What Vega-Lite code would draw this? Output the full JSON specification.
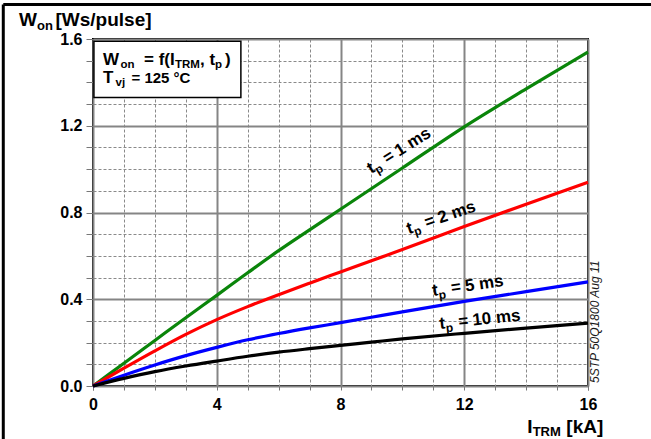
{
  "$schema": "https://vega.github.io/schema/vega-lite/v6.json",
  "width": 495,
  "height": 347,
  "autosize": {"type": "none"},
  "padding": {"left": 93, "top": 39, "right": 63, "bottom": 53},
  "background": "white",
  "config": {
    "view": {"stroke": "black", "strokeWidth": 2},
    "font": "Liberation Sans",
    "text": {"font": "Liberation Sans", "fontWeight": "bold", "color": "black"}
  },
  "resolve": {"axis": {"x": "independent", "y": "independent"}},
  "datasets": {
    "curves": [
      {"tp": "1 ms", "I": 0, "W": 0},
      {"tp": "1 ms", "I": 1, "W": 0.105},
      {"tp": "1 ms", "I": 2, "W": 0.21},
      {"tp": "1 ms", "I": 3, "W": 0.315},
      {"tp": "1 ms", "I": 4, "W": 0.418},
      {"tp": "1 ms", "I": 5, "W": 0.522},
      {"tp": "1 ms", "I": 6, "W": 0.624},
      {"tp": "1 ms", "I": 7, "W": 0.72},
      {"tp": "1 ms", "I": 8, "W": 0.815},
      {"tp": "1 ms", "I": 10, "W": 1.005},
      {"tp": "1 ms", "I": 12, "W": 1.195},
      {"tp": "1 ms", "I": 14, "W": 1.37},
      {"tp": "1 ms", "I": 16, "W": 1.54},
      {"tp": "2 ms", "I": 0, "W": 0},
      {"tp": "2 ms", "I": 1, "W": 0.082},
      {"tp": "2 ms", "I": 2, "W": 0.162},
      {"tp": "2 ms", "I": 3, "W": 0.238},
      {"tp": "2 ms", "I": 4, "W": 0.306},
      {"tp": "2 ms", "I": 5, "W": 0.366},
      {"tp": "2 ms", "I": 6, "W": 0.421},
      {"tp": "2 ms", "I": 7, "W": 0.474},
      {"tp": "2 ms", "I": 8, "W": 0.526},
      {"tp": "2 ms", "I": 9, "W": 0.578},
      {"tp": "2 ms", "I": 10, "W": 0.629},
      {"tp": "2 ms", "I": 12, "W": 0.735},
      {"tp": "2 ms", "I": 14, "W": 0.838},
      {"tp": "2 ms", "I": 16, "W": 0.94},
      {"tp": "5 ms", "I": 0, "W": 0},
      {"tp": "5 ms", "I": 1, "W": 0.05},
      {"tp": "5 ms", "I": 2, "W": 0.097},
      {"tp": "5 ms", "I": 3, "W": 0.14},
      {"tp": "5 ms", "I": 4, "W": 0.178},
      {"tp": "5 ms", "I": 5, "W": 0.213},
      {"tp": "5 ms", "I": 6, "W": 0.242},
      {"tp": "5 ms", "I": 7, "W": 0.268},
      {"tp": "5 ms", "I": 8, "W": 0.292},
      {"tp": "5 ms", "I": 9, "W": 0.317},
      {"tp": "5 ms", "I": 10, "W": 0.342},
      {"tp": "5 ms", "I": 12, "W": 0.39},
      {"tp": "5 ms", "I": 14, "W": 0.435},
      {"tp": "5 ms", "I": 16, "W": 0.48},
      {"tp": "10 ms", "I": 0, "W": 0},
      {"tp": "10 ms", "I": 1, "W": 0.035},
      {"tp": "10 ms", "I": 2, "W": 0.066},
      {"tp": "10 ms", "I": 3, "W": 0.092},
      {"tp": "10 ms", "I": 4, "W": 0.115},
      {"tp": "10 ms", "I": 5, "W": 0.137},
      {"tp": "10 ms", "I": 6, "W": 0.156},
      {"tp": "10 ms", "I": 7, "W": 0.172},
      {"tp": "10 ms", "I": 8, "W": 0.187},
      {"tp": "10 ms", "I": 9, "W": 0.202},
      {"tp": "10 ms", "I": 10, "W": 0.217},
      {"tp": "10 ms", "I": 12, "W": 0.243},
      {"tp": "10 ms", "I": 14, "W": 0.267},
      {"tp": "10 ms", "I": 16, "W": 0.29}
    ],
    "labels": [
      {"tp": "1 ms", "x": 8.99, "y": 0.977},
      {"tp": "2 ms", "x": 10.21, "y": 0.70},
      {"tp": "5 ms", "x": 10.99, "y": 0.415},
      {"tp": "10 ms", "x": 11.22, "y": 0.263}
    ],
    "one": [{}]
  },
  "layer": [
    {
      "data": {"name": "curves"},
      "mark": {"type": "line", "strokeOpacity": 0},
      "encoding": {
        "x": {
          "field": "I", "type": "quantitative",
          "scale": {"domain": [0, 16], "nice": false, "zero": false},
          "axis": {
            "orient": "bottom",
            "values": [0,1,2,3,5,6,7,9,10,11,13,14,15,16],
            "labels": false,
            "title": null,
            "domain": false,
            "grid": true,
            "gridColor": "#8a8a8a",
            "gridDash": [3, 2],
            "gridWidth": 1,
            "ticks": true,
            "tickSize": 4,
            "tickColor": "#777777"
          }
        },
        "y": {
          "field": "W", "type": "quantitative",
          "scale": {"domain": [0, 1.6], "nice": false, "zero": false},
          "axis": {
            "orient": "left",
            "values": [0.1,0.2,0.3,0.5,0.6,0.7,0.9,1.0,1.1,1.3,1.4,1.5],
            "labels": false,
            "title": null,
            "domain": false,
            "grid": true,
            "gridColor": "#8a8a8a",
            "gridDash": [3, 2],
            "gridWidth": 1,
            "ticks": true,
            "tickSize": 7,
            "tickColor": "#777777"
          }
        },
        "detail": {"field": "tp", "type": "nominal"}
      }
    },
    {
      "data": {"name": "curves"},
      "mark": {"type": "line", "interpolate": "monotone", "strokeWidth": 3.2},
      "encoding": {
        "x": {
          "field": "I", "type": "quantitative",
          "scale": {"domain": [0, 16], "nice": false, "zero": false},
          "axis": {
            "orient": "bottom",
            "values": [0, 4, 8, 12, 16],
            "format": "d",
            "title": null,
            "domain": false,
            "grid": true,
            "gridColor": "#858585",
            "gridWidth": 2,
            "ticks": true,
            "tickSize": 4,
            "tickColor": "#777777",
            "labelFont": "Liberation Sans",
            "labelFontSize": 16,
            "labelFontWeight": "bold",
            "labelColor": "black",
            "labelPadding": 6,
            "labelFlush": false,
            "labelOverlap": false
          }
        },
        "y": {
          "field": "W", "type": "quantitative",
          "scale": {"domain": [0, 1.6], "nice": false, "zero": false},
          "axis": {
            "orient": "left",
            "values": [0, 0.4, 0.8, 1.2, 1.6],
            "format": ".1f",
            "title": null,
            "domain": false,
            "grid": true,
            "gridColor": "#858585",
            "gridWidth": 2,
            "ticks": true,
            "tickSize": 7,
            "tickColor": "#777777",
            "labelFont": "Liberation Sans",
            "labelFontSize": 16,
            "labelFontWeight": "bold",
            "labelColor": "black",
            "labelPadding": 4,
            "labelFlush": false,
            "labelOverlap": false
          }
        },
        "color": {
          "field": "tp", "type": "nominal",
          "scale": {"domain": ["1 ms", "2 ms", "5 ms", "10 ms"], "range": ["#0a850a", "#ff0000", "#0000ff", "#000000"]},
          "legend": null
        },
        "order": {"field": "I", "type": "quantitative"}
      }
    },
    {
      "data": {"name": "labels"},
      "mark": {"type": "text", "text": "t", "fontSize": 17, "align": "left", "baseline": "alphabetic", "clip": false},
      "encoding": {
        "x": {"field": "x", "type": "quantitative", "scale": {"domain": [0, 16], "nice": false, "zero": false}, "axis": null},
        "y": {"field": "y", "type": "quantitative", "scale": {"domain": [0, 1.6], "nice": false, "zero": false}, "axis": null},
        "angle": {"field": "tp", "type": "nominal", "scale": {"type": "ordinal", "domain": ["1 ms", "2 ms", "5 ms", "10 ms"], "range": [328, 341, 352, 354]}, "legend": null}
      }
    },
    {
      "data": {"name": "labels"},
      "mark": {"type": "text", "text": "p", "fontSize": 12, "dx": 5.7, "dy": 4, "align": "left", "baseline": "alphabetic", "clip": false},
      "encoding": {
        "x": {"field": "x", "type": "quantitative", "scale": {"domain": [0, 16], "nice": false, "zero": false}, "axis": null},
        "y": {"field": "y", "type": "quantitative", "scale": {"domain": [0, 1.6], "nice": false, "zero": false}, "axis": null},
        "angle": {"field": "tp", "type": "nominal", "scale": {"type": "ordinal", "domain": ["1 ms", "2 ms", "5 ms", "10 ms"], "range": [328, 341, 352, 354]}, "legend": null}
      }
    },
    {
      "data": {"name": "labels"},
      "mark": {"type": "text", "text": "=", "fontSize": 17, "dx": 19, "align": "left", "baseline": "alphabetic", "clip": false},
      "encoding": {
        "x": {"field": "x", "type": "quantitative", "scale": {"domain": [0, 16], "nice": false, "zero": false}, "axis": null},
        "y": {"field": "y", "type": "quantitative", "scale": {"domain": [0, 1.6], "nice": false, "zero": false}, "axis": null},
        "angle": {"field": "tp", "type": "nominal", "scale": {"type": "ordinal", "domain": ["1 ms", "2 ms", "5 ms", "10 ms"], "range": [328, 341, 352, 354]}, "legend": null}
      }
    },
    {
      "data": {"name": "labels"},
      "mark": {"type": "text", "fontSize": 17, "dx": 33, "align": "left", "baseline": "alphabetic", "clip": false},
      "encoding": {
        "x": {"field": "x", "type": "quantitative", "scale": {"domain": [0, 16], "nice": false, "zero": false}, "axis": null},
        "y": {"field": "y", "type": "quantitative", "scale": {"domain": [0, 1.6], "nice": false, "zero": false}, "axis": null},
        "angle": {"field": "tp", "type": "nominal", "scale": {"type": "ordinal", "domain": ["1 ms", "2 ms", "5 ms", "10 ms"], "range": [328, 341, 352, 354]}, "legend": null},
        "text": {"field": "tp", "type": "nominal"}
      }
    },
    {
      "data": {"name": "one"},
      "mark": {"type": "rect", "fill": "white", "stroke": "black", "strokeWidth": 1.5, "clip": false},
      "encoding": {
        "x": {"datum": 0.03, "type": "quantitative", "scale": {"domain": [0, 16], "nice": false, "zero": false}, "axis": null},
        "x2": {"datum": 4.78},
        "y": {"datum": 1.59, "type": "quantitative", "scale": {"domain": [0, 1.6], "nice": false, "zero": false}, "axis": null},
        "y2": {"datum": 1.33}
      }
    },
    {
      "data": {"name": "one"},
      "layer": [
        {"mark": {"type": "text", "text": "W", "fontSize": 17, "align": "left", "baseline": "alphabetic", "clip": false}},
        {"mark": {"type": "text", "text": "on", "fontSize": 11.5, "dx": 17.5, "dy": 3, "align": "left", "baseline": "alphabetic", "clip": false}},
        {"mark": {"type": "text", "text": "= f(I", "fontSize": 17, "dx": 41, "align": "left", "baseline": "alphabetic", "clip": false}},
        {"mark": {"type": "text", "text": "TRM", "fontSize": 11.5, "dx": 72, "dy": 3, "align": "left", "baseline": "alphabetic", "clip": false}},
        {"mark": {"type": "text", "text": ", t", "fontSize": 17, "dx": 97, "align": "left", "baseline": "alphabetic", "clip": false}},
        {"mark": {"type": "text", "text": "p", "fontSize": 11.5, "dx": 112, "dy": 3, "align": "left", "baseline": "alphabetic", "clip": false}},
        {"mark": {"type": "text", "text": ")", "fontSize": 17, "dx": 122, "align": "left", "baseline": "alphabetic", "clip": false}}
      ],
      "encoding": {
        "x": {"datum": 0.323, "type": "quantitative", "scale": {"domain": [0, 16], "nice": false, "zero": false}, "axis": null},
        "y": {"datum": 1.482, "type": "quantitative", "scale": {"domain": [0, 1.6], "nice": false, "zero": false}, "axis": null}
      }
    },
    {
      "data": {"name": "one"},
      "layer": [
        {"mark": {"type": "text", "text": "T", "fontSize": 17, "align": "left", "baseline": "alphabetic", "clip": false}},
        {"mark": {"type": "text", "text": "vj", "fontSize": 11.5, "dx": 12.5, "dy": 3.5, "align": "left", "baseline": "alphabetic", "clip": false}},
        {"mark": {"type": "text", "text": "= 125 °C", "fontSize": 15, "dx": 28.5, "align": "left", "baseline": "alphabetic", "clip": false}}
      ],
      "encoding": {
        "x": {"datum": 0.323, "type": "quantitative", "scale": {"domain": [0, 16], "nice": false, "zero": false}, "axis": null},
        "y": {"datum": 1.398, "type": "quantitative", "scale": {"domain": [0, 1.6], "nice": false, "zero": false}, "axis": null}
      }
    },
    {
      "data": {"name": "one"},
      "layer": [
        {"mark": {"type": "text", "text": "W", "fontSize": 19, "align": "left", "baseline": "alphabetic", "clip": false}},
        {"mark": {"type": "text", "text": "on", "fontSize": 13, "dx": 18, "dy": 4.5, "align": "left", "baseline": "alphabetic", "clip": false}},
        {"mark": {"type": "text", "text": "[Ws/pulse]", "fontSize": 19, "dx": 36.5, "align": "left", "baseline": "alphabetic", "clip": false}}
      ],
      "encoding": {
        "x": {"datum": -2.392, "type": "quantitative", "scale": {"domain": [0, 16], "nice": false, "zero": false}, "axis": null},
        "y": {"datum": 1.661, "type": "quantitative", "scale": {"domain": [0, 1.6], "nice": false, "zero": false}, "axis": null}
      }
    },
    {
      "data": {"name": "one"},
      "layer": [
        {"mark": {"type": "text", "text": "I", "fontSize": 19, "align": "left", "baseline": "alphabetic", "clip": false}},
        {"mark": {"type": "text", "text": "TRM", "fontSize": 13, "dx": 5.3, "dy": 3, "align": "left", "baseline": "alphabetic", "clip": false}},
        {"mark": {"type": "text", "text": "[kA]", "fontSize": 19, "dx": 39, "align": "left", "baseline": "alphabetic", "clip": false}}
      ],
      "encoding": {
        "x": {"datum": 14.04, "type": "quantitative", "scale": {"domain": [0, 16], "nice": false, "zero": false}, "axis": null},
        "y": {"datum": -0.215, "type": "quantitative", "scale": {"domain": [0, 1.6], "nice": false, "zero": false}, "axis": null}
      }
    },
    {
      "data": {"name": "one"},
      "mark": {"type": "text", "text": "5STP 50Q1800 Aug 11", "fontSize": 12, "fontWeight": "normal", "fontStyle": "italic", "angle": 270, "align": "left", "baseline": "alphabetic", "color": "#1a1a1a", "clip": false},
      "encoding": {
        "x": {"datum": 16.36, "type": "quantitative", "scale": {"domain": [0, 16], "nice": false, "zero": false}, "axis": null},
        "y": {"datum": 0.014, "type": "quantitative", "scale": {"domain": [0, 1.6], "nice": false, "zero": false}, "axis": null}
      }
    },
    {
      "data": {"name": "one"},
      "mark": {"type": "rule", "color": "black", "strokeWidth": 3, "clip": false},
      "encoding": {
        "x": {"datum": -2.9, "type": "quantitative", "scale": {"domain": [0, 16], "nice": false, "zero": false}, "axis": null},
        "x2": {"datum": 18.6},
        "y": {"datum": 1.759, "type": "quantitative", "scale": {"domain": [0, 1.6], "nice": false, "zero": false}, "axis": null}
      }
    },
    {
      "data": {"name": "one"},
      "mark": {"type": "rule", "color": "black", "strokeWidth": 3, "clip": false},
      "encoding": {
        "x": {"datum": -2.9, "type": "quantitative", "scale": {"domain": [0, 16], "nice": false, "zero": false}, "axis": null},
        "y": {"datum": 1.759, "type": "quantitative", "scale": {"domain": [0, 1.6], "nice": false, "zero": false}, "axis": null},
        "y2": {"datum": -0.35}
      }
    }
  ]
}
